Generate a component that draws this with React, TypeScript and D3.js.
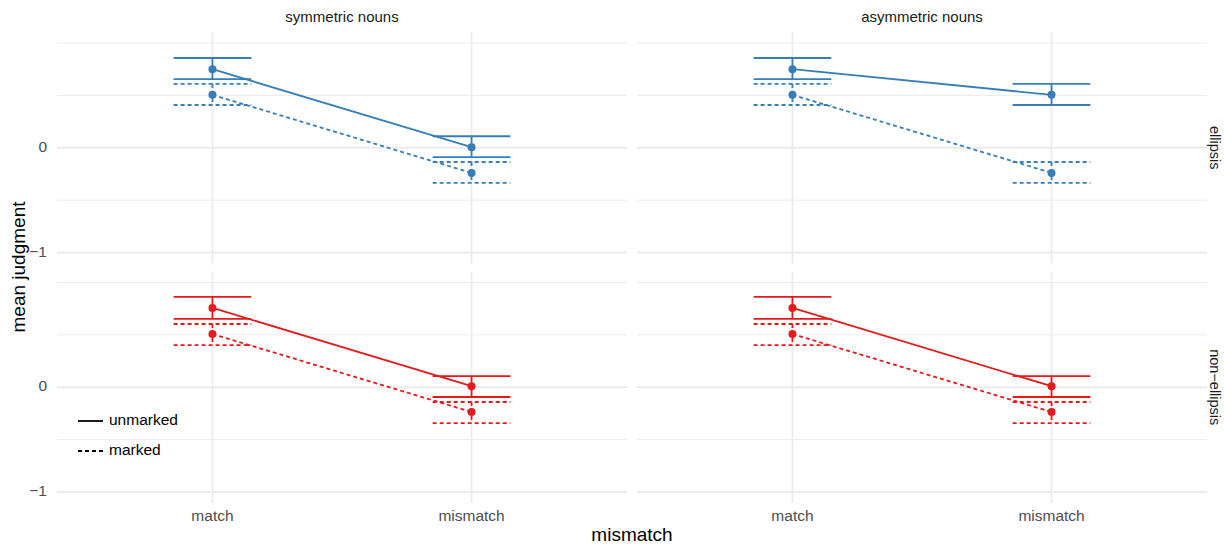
import React from 'react';
import * as d3 from 'd3';

// facets, categories
const nounTypes: string[] = ['symmetric nouns', 'asymmetric nouns'];
const ellipsisTypes: string[] = ['ellipsis', 'non-ellipsis'];
const mismatchLevels: string[] = ['match', 'mismatch'];
const markings: string[] = ['unmarked', 'marked'];

// means per [ellipsis][nounType][marking] -> [match, mismatch]
const means: number[][][][] = [
  [
    [[0.75, 0.005], [0.505, -0.24]],
    [[0.75, 0.505], [0.505, -0.24]],
  ],
  [
    [[0.757, 0.01], [0.508, -0.236]],
    [[0.757, 0.01], [0.508, -0.236]],
  ],
];
const lowers: number[][][][] = [
  [
    [[0.655, -0.09], [0.408, -0.336]],
    [[0.655, 0.408], [0.408, -0.336]],
  ],
  [
    [[0.652, -0.093], [0.403, -0.342]],
    [[0.652, -0.093], [0.403, -0.342]],
  ],
];
const uppers: number[][][][] = [
  [
    [[0.857, 0.11], [0.609, -0.136]],
    [[0.857, 0.609], [0.609, -0.136]],
  ],
  [
    [[0.862, 0.107], [0.604, -0.141]],
    [[0.862, 0.107], [0.604, -0.141]],
  ],
];

const yTicks: number[] = [-1, 0];
const yMinor: number[] = [-0.5, 0.5, 1];

const colors: string[] = ['#377EB8', '#E41A1C'];
const dashes: (string | undefined)[] = [undefined, '4,3'];

const App: React.FC = () => {
  const width = 1224;
  const height = 546;
  const font = '"Liberation Sans", Arial, Helvetica, sans-serif';

  const cols = [
    [57, 627],
    [637, 1207],
  ];
  const rows = [
    [32, 263.5],
    [271.5, 503],
  ];

  const xScales = cols.map((c) =>
    d3.scalePoint<string>().domain(mismatchLevels).range(c as [number, number]).padding(0.6)
  );
  const yScales = rows.map((r) =>
    d3.scaleLinear().domain([-1.105, 1.105]).range([r[1], r[0]])
  );
  const step = xScales[0].step();
  const ebHalf = step * 0.15;

  const line = (xs: d3.ScalePoint<string>, ys: d3.ScaleLinear<number, number>) =>
    d3
      .line<[string, number]>()
      .x((d) => xs(d[0]) as number)
      .y((d) => ys(d[1]));

  return (
    <svg
      width={width}
      height={height}
      style={{ position: 'absolute', left: 0, top: 0, fontFamily: font }}
    >
      <rect width={width} height={height} fill="#fff" />
      <defs>
        {rows.map((r, ri) =>
          cols.map((c, ci) => (
            <clipPath id={`clip-${ri}-${ci}`} key={`${ri}-${ci}`}>
              <rect x={c[0]} y={r[0]} width={c[1] - c[0]} height={r[1] - r[0]} />
            </clipPath>
          ))
        )}
      </defs>

      {/* strip labels on top */}
      {nounTypes.map((n, ci) => (
        <text
          key={n}
          x={(cols[ci][0] + cols[ci][1]) / 2}
          y={18}
          textAnchor="middle"
          dominantBaseline="middle"
          fontSize={15}
          fill="#1a1a1a"
        >
          {n}
        </text>
      ))}

      {/* strip labels on right */}
      {ellipsisTypes.map((e, ri) => {
        const cy = (rows[ri][0] + rows[ri][1]) / 2;
        return (
          <text
            key={e}
            transform={`translate(1214, ${cy}) rotate(90)`}
            textAnchor="middle"
            dominantBaseline="middle"
            fontSize={14.5}
            fill="#1a1a1a"
          >
            {e.replace('-', '\u2212')}
          </text>
        );
      })}

      {rows.map((r, ri) =>
        cols.map((c, ci) => {
          const xs = xScales[ci];
          const ys = yScales[ri];
          const color = colors[ri];
          return (
            <g key={`${ri}-${ci}`}>
              {/* grid */}
              {yMinor.map((v) => (
                <line key={`mn${v}`} x1={c[0]} x2={c[1]} y1={ys(v)} y2={ys(v)} stroke="#ebebeb" strokeWidth={1} />
              ))}
              {yTicks.map((v) => (
                <line key={`mj${v}`} x1={c[0]} x2={c[1]} y1={ys(v)} y2={ys(v)} stroke="#ebebeb" strokeWidth={1.8} />
              ))}
              {mismatchLevels.map((m) => (
                <line
                  key={m}
                  x1={xs(m)}
                  x2={xs(m)}
                  y1={r[0]}
                  y2={r[1]}
                  stroke="#ebebeb"
                  strokeWidth={1.8}
                />
              ))}
              <g clipPath={`url(#clip-${ri}-${ci})`}>
                {markings.map((mk, mi) => {
                  const vals = means[ri][ci][mi];
                  const pts: [string, number][] = mismatchLevels.map((m, k) => [m, vals[k]]);
                  return (
                    <g key={mk}>
                      <path
                        d={line(xs, ys)(pts) || ''}
                        fill="none"
                        stroke={color}
                        strokeWidth={1.8}
                        strokeDasharray={dashes[mi]}
                      />
                      {mismatchLevels.map((m, k) => {
                        const x = xs(m) as number;
                        const lo = ys(lowers[ri][ci][mi][k]);
                        const hi = ys(uppers[ri][ci][mi][k]);
                        return (
                          <g key={m} stroke={color} strokeWidth={1.8} strokeDasharray={dashes[mi]} fill="none">
                            <line x1={x - ebHalf} x2={x + ebHalf} y1={hi} y2={hi} />
                            <line x1={x - ebHalf} x2={x + ebHalf} y1={lo} y2={lo} />
                            <line x1={x} x2={x} y1={hi} y2={lo} />
                          </g>
                        );
                      })}
                      {mismatchLevels.map((m, k) => (
                        <circle key={`p${m}`} cx={xs(m)} cy={ys(vals[k])} r={4} fill={color} />
                      ))}
                    </g>
                  );
                })}
              </g>
            </g>
          );
        })
      )}

      {/* y axis tick labels */}
      {rows.map((r, ri) =>
        yTicks.map((v) => (
          <text
            key={`${ri}-${v}`}
            x={47}
            y={yScales[ri](v)}
            textAnchor="end"
            dominantBaseline="middle"
            fontSize={15.5}
            fill="#4d4d4d"
          >
            {d3.format('d')(v).replace('-', '\u2212')}
          </text>
        ))
      )}

      {/* x axis tick labels */}
      {cols.map((c, ci) =>
        mismatchLevels.map((m) => (
          <text
            key={`${ci}-${m}`}
            x={xScales[ci](m)}
            y={517}
            textAnchor="middle"
            dominantBaseline="middle"
            fontSize={15.5}
            fill="#4d4d4d"
          >
            {m}
          </text>
        ))
      )}

      {/* axis titles */}
      <text x={632} y={536} textAnchor="middle" dominantBaseline="middle" fontSize={19} fill="#000">
        mismatch
      </text>
      <text
        transform={`translate(20, 267) rotate(-90)`}
        textAnchor="middle"
        dominantBaseline="middle"
        fontSize={19}
        fill="#000"
      >
        mean judgment
      </text>

      {/* legend */}
      {markings.map((mk, mi) => {
        const ly = 421 + mi * 30;
        return (
          <g key={mk}>
            <line x1={78} x2={103} y1={ly} y2={ly} stroke="#000" strokeWidth={1.8} strokeDasharray={dashes[mi]} />
            <text x={109} y={ly} dominantBaseline="middle" fontSize={15.5} fill="#000">
              {mk}
            </text>
          </g>
        );
      })}
    </svg>
  );
};

export default App;
